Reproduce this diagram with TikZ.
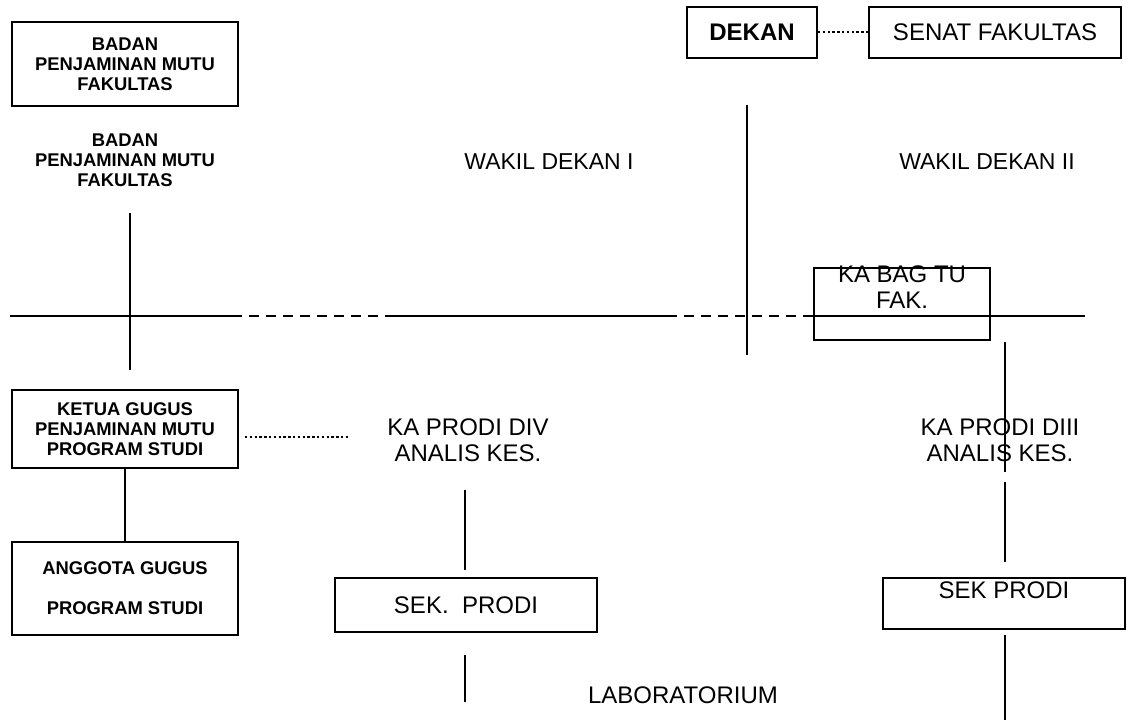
\documentclass[tikz,border=0pt]{standalone}
\usepackage{fontspec}
\setmainfont{Liberation Sans}
\usetikzlibrary{positioning}

\tikzset{
  box/.style={draw, rectangle, line width=1pt, align=center, inner sep=2pt},
  txt/.style={align=center, font=\fontsize{12}{13}\selectfont},
  btxt/.style={align=center, font=\bfseries\fontsize{9.2}{10}\selectfont},
  ln/.style={line width=1pt},
  dashln/.style={line width=1pt, dash pattern=on 5pt off 3.5pt},
  dotln/.style={line width=1pt, dash pattern=on 1.2pt off 1.2pt}
}

\begin{document}
\begin{tikzpicture}[x=0.5pt, y=-0.5pt]
\useasboundingbox (0,0) rectangle (1127,720);

% top
\node (bpmfbox) [box, btxt, minimum width=113pt, minimum height=42pt] at (125,64) {BADAN\\PENJAMINAN MUTU\\FAKULTAS};
\node (bpmf) [btxt] at (125,160) {BADAN\\PENJAMINAN MUTU\\FAKULTAS};
\node (dekan) [box, txt, font=\bfseries\fontsize{12}{13}\selectfont, minimum width=65pt, minimum height=25.5pt] at (752,32) {DEKAN};
\node (senat) [box, txt, minimum width=126pt, minimum height=25.5pt] at (995,32) {SENAT FAKULTAS};
\node (wd1) [txt, font=\fontsize{11.5}{13}\selectfont] at (549,162) {WAKIL DEKAN I};
\node (wd2) [txt, font=\fontsize{11.5}{13}\selectfont] at (987,162) {WAKIL DEKAN II};
\node (katu) [box, minimum width=88pt, minimum height=36pt] at (902,304) {};
\node (katutxt) [txt] at (902,287) {KA BAG TU\\FAK.};

% bottom
\node (ketua) [box, btxt, minimum width=113pt, minimum height=39pt] at (125,429) {KETUA GUGUS\\PENJAMINAN MUTU\\PROGRAM STUDI};
\node (anggota) [box, btxt, minimum width=113pt, minimum height=46.5pt] at (125,588) {ANGGOTA GUGUS\\[10pt]PROGRAM STUDI};
\node (kpdiv) [txt] at (468,440) {KA PRODI DIV\\ANALIS KES.};
\node (sek1) [box, txt, minimum width=131pt, minimum height=27pt] at (466,605) {SEK.\ \ PRODI};
\node (lab) [txt] at (683,695) {LABORATORIUM};
\node (kpdiii) [txt] at (1000,440) {KA PRODI DIII\\ANALIS KES.};
\node (sek2) [box, txt, minimum width=121pt, text height=7.5pt, text depth=12pt, inner ysep=3pt] at (1004,603) {SEK PRODI};

% free ends
\coordinate (h0) at (10,316);
\coordinate (h1) at (232,316);
\coordinate (h2) at (392,316);
\coordinate (h3) at (667,316);
\coordinate (h4) at (813,316);
\coordinate (h5) at (1085,316);
\coordinate (vl1) at (130,213);
\coordinate (vl2) at (130,370);
\coordinate (vc1) at (747,105);
\coordinate (vc2) at (747,355);
\coordinate (dt1) at (245,437);
\coordinate (dt2) at (350,437);
\coordinate (p1) at (465,490);
\coordinate (p2) at (465,570);
\coordinate (p3) at (465,655);
\coordinate (p4) at (465,702);
\coordinate (r1) at (1005,342);
\coordinate (r2) at (1005,472);
\coordinate (r3) at (1005,482);
\coordinate (r4) at (1005,562);
\coordinate (r5) at (1005,635);
\coordinate (r6) at (1005,720);

\draw[ln] (h0) -- (h1);
\draw[dashln] (h1) -- (h2);
\draw[ln] (h2) -- (h3);
\draw[dashln] (h3) -- (h4);
\draw[ln] (h4) -- (h5);
\draw[ln] (vl1) -- (vl2);
\draw[ln] (vc1) -- (vc2);
\draw[dotln] (dekan) -- (senat);
\draw[dotln] (dt1) -- (dt2);
\draw[ln] (ketua) -- (anggota);
\draw[ln] (p1) -- (p2);
\draw[ln] (p3) -- (p4);
\draw[ln] (r1) -- (r2);
\draw[ln] (r3) -- (r4);
\draw[ln] (r5) -- (r6);
\end{tikzpicture}
\end{document}
